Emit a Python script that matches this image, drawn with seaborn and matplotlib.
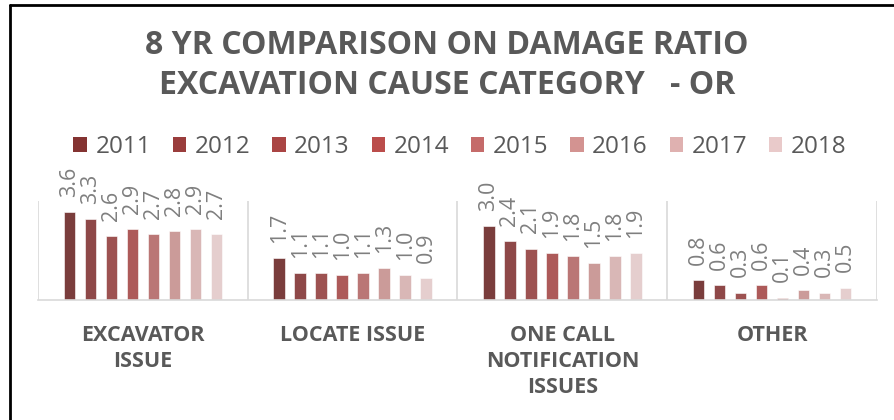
import pandas as pd
import matplotlib
matplotlib.use("Agg")
import matplotlib.pyplot as plt
from matplotlib.lines import Line2D
from matplotlib.patches import Patch
import seaborn as sns

# ── Data ─────────────────────────────────────────
categories = ["EXCAVATOR\nISSUE", "LOCATE ISSUE", "ONE CALL\nNOTIFICATION\nISSUES", "OTHER"]
years = ["2011", "2012", "2013", "2014", "2015", "2016", "2017", "2018"]
excavator = [3.6, 3.3, 2.6, 2.9, 2.7, 2.8, 2.9, 2.7]
locate = [1.7, 1.1, 1.1, 1.0, 1.1, 1.3, 1.0, 0.9]
one_call = [3.0, 2.4, 2.1, 1.9, 1.8, 1.5, 1.8, 1.9]
other = [0.8, 0.6, 0.3, 0.6, 0.1, 0.4, 0.3, 0.5]
colors = ["#843332", "#9A3D3C", "#AA4544", "#BB4D4B",
          "#C56B6A", "#D39391", "#DFB1B0", "#E9CACA"]

rows = []
for cat, vals in zip(categories, [excavator, locate, one_call, other]):
    for yr, v in zip(years, vals):
        rows.append({"category": cat, "year": yr, "ratio": v})
df = pd.DataFrame(rows)

# ── Plot ─────────────────────────────────────────
sns.set_style("white")
plt.rcParams["font.family"] = ["Open Sans", "DejaVu Sans"]
text_gray = "#595959"
grid_gray = "#D9D9D9"

fig = plt.figure(figsize=(8.94, 4.2), dpi=100)
ax = fig.add_axes([38 / 894, 1 - 300 / 420, (877 - 38) / 894, 99 / 420])

sns.barplot(data=df, x="category", y="ratio", hue="year", order=categories,
            hue_order=years, palette=colors, width=0.8, gap=0.45,
            edgecolor="white", linewidth=0.4, legend=False, ax=ax)

# rotated data labels above each bar
for cont in ax.containers:
    ax.bar_label(cont, fmt="%.1f", rotation=90, padding=11,
                 color="#7F7F7F", fontsize=15.5, clip_on=False)

ax.set_ylim(0, 4.04)
ax.set_xlim(-0.5, 3.5)
ax.set_yticks([])
ax.set_xlabel("")
ax.set_ylabel("")
ax.set_xticks([-0.5, 0.5, 1.5, 2.5, 3.5], minor=True)
ax.grid(True, which="minor", axis="x", color=grid_gray, lw=1.2)
ax.tick_params(axis="x", which="both", length=0, pad=18)
for lbl in ax.get_xticklabels():
    lbl.set_fontsize(15.5)
    lbl.set_fontweight("bold")
    lbl.set_color(text_gray)
    lbl.set_linespacing(1.3)
for s in ["top", "left", "right"]:
    ax.spines[s].set_visible(False)
ax.spines["bottom"].set_color(grid_gray)
ax.spines["bottom"].set_linewidth(1.2)

# title
fig.text(0.5, 1 - 45 / 420, "8 YR COMPARISON ON DAMAGE RATIO", ha="center",
         va="center", fontsize=23, fontweight="bold", color=text_gray)
fig.text(0.5, 1 - 85 / 420, "EXCAVATION CAUSE CATEGORY   - OR", ha="center",
         va="center", fontsize=23, fontweight="bold", color=text_gray)

# legend
handles = [Patch(facecolor=c, edgecolor="none") for c in colors]
fig.legend(handles, years, loc="center", bbox_to_anchor=(460 / 894, 1 - 147 / 420),
           ncol=8, frameon=False, fontsize=17.5, labelcolor=text_gray,
           handlelength=0.55, handleheight=0.55, handletextpad=0.35,
           columnspacing=0.9)

# border
fig.add_artist(Line2D([9.5 / 894, 9.5 / 894], [0, 1 - 5 / 420], color="black", lw=2))
fig.add_artist(Line2D([9.5 / 894, 1], [1 - 5 / 420, 1 - 5 / 420], color="black", lw=2))

plt.savefig("out.png", dpi=100)
